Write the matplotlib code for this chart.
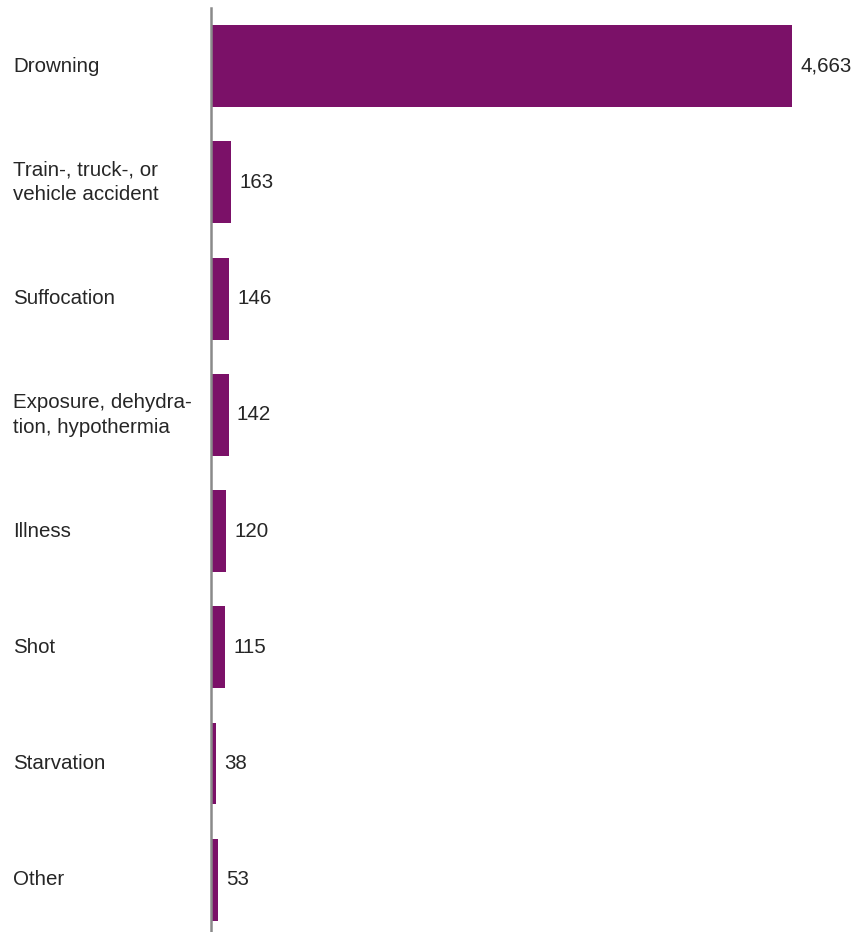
import matplotlib.pyplot as plt
import matplotlib.transforms as mtransforms

causes = ["Drowning", "Train-, truck-, or\nvehicle accident", "Suffocation",
          "Exposure, dehydra-\ntion, hypothermia", "Illness", "Shot",
          "Starvation", "Other"]
deaths = [4663, 163, 146, 142, 120, 115, 38, 53]

plt.rcParams['font.family'] = ['Liberation Sans', 'DejaVu Sans']

fig = plt.figure(figsize=(8.62, 9.32), dpi=100)
ax = fig.add_axes([211 / 862, 0, 1 - 211 / 862, 924 / 932])

ypos = list(range(len(causes)))
ax.barh(ypos, deaths, height=0.705, color="#7B1168", zorder=2)

# value labels just past the bar ends
for y, v in zip(ypos, deaths):
    ax.text(v + 65, y, "{:,}".format(v), va="center", ha="left",
            fontsize=14.8, color="#262626")

# category labels, left edge of figure
lab_tf = mtransforms.blended_transform_factory(fig.transFigure, ax.transData)
for y, lab in zip(ypos, causes):
    ax.text(13 / 862, y, lab, transform=lab_tf, va="center",
            ha="left", fontsize=14.8, color="#262626", linespacing=1.4)

ax.set_xlim(0, 4663 * 651 / 581)
ax.set_ylim(7.45, -0.5)
ax.set_xticks([])
ax.set_yticks([])
for s in ["top", "right", "bottom"]:
    ax.spines[s].set_visible(False)
ax.spines["left"].set_color("#8a8a8a")
ax.spines["left"].set_linewidth(1.8)
ax.spines["left"].set_zorder(3)

fig.savefig("out.png", dpi=100)
